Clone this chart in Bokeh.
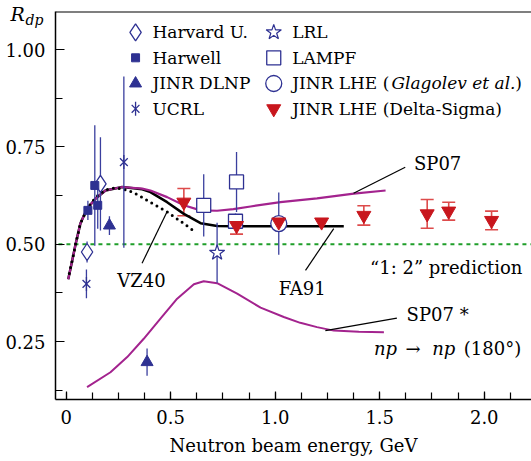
import numpy as np
from bokeh.plotting import figure
from bokeh.models import (Range1d, FixedTicker, CustomJSTickFormatter, PrintfTickFormatter,
                          Label, Span, Title, Whisker, TeeHead, ColumnDataSource)
from bokeh.embed import file_html
from bokeh.resources import INLINE

# ---------------- data ----------------
harvard_x = [0.100, 0.164]
harvard_y = [0.480, 0.655]
harvard_err = [0.027, 0.120]

harwell_x = [0.104, 0.137, 0.151]
harwell_y = [0.587, 0.651, 0.600]
harwell_err = [0.025, 0.155, 0.060]

dlnp_x = [0.207, 0.387]
dlnp_y = [0.548, 0.197]
dlnp_err = [0.024, 0.035]

ucrl_x = [0.097, 0.276]
ucrl_y = [0.398, 0.711]
ucrl_err = [0.037, 0.220]

lrl_x = [0.722]
lrl_y = [0.478]
lrl_err = [0.077]

lampf_x = [0.658, 0.815, 0.810]
lampf_y = [0.600, 0.660, 0.559]
lampf_err = [0.080, 0.077, 0.020]

glag_x = [1.017]
glag_y = [0.553]
glag_err = [0.080]

ds_x = [0.563, 0.815, 1.017, 1.222, 1.424, 1.727, 1.830, 2.035]
ds_y = [0.608, 0.548, 0.557, 0.557, 0.574, 0.578, 0.585, 0.561]
ds_err = [0.035, 0.022, 0.0, 0.0, 0.025, 0.037, 0.023, 0.024]

sp07_x = [0.010, 0.029, 0.045, 0.068, 0.100, 0.140, 0.188, 0.268, 0.364, 0.403, 0.483,
          0.563, 0.643, 0.722, 0.800, 0.882, 1.025, 1.200, 1.376, 1.528]
sp07_y = [0.410, 0.458, 0.500, 0.553, 0.591, 0.617, 0.638, 0.647, 0.643, 0.638, 0.621,
          0.600, 0.587, 0.586, 0.590, 0.597, 0.608, 0.618, 0.630, 0.638]

fa91_x = [0.010, 0.029, 0.045, 0.068, 0.100, 0.140, 0.188, 0.268, 0.364, 0.403, 0.483,
          0.563, 0.643, 0.722, 0.800, 1.000, 1.328]
fa91_y = [0.410, 0.458, 0.500, 0.553, 0.591, 0.617, 0.638, 0.647, 0.641, 0.634, 0.608,
          0.578, 0.554, 0.547, 0.546, 0.546, 0.546]

vz40_x = [0.015, 0.029, 0.045, 0.068, 0.100, 0.140, 0.188, 0.240, 0.300, 0.350, 0.395,
          0.483, 0.563, 0.619]
vz40_y = [0.425, 0.458, 0.500, 0.553, 0.591, 0.620, 0.640, 0.645, 0.638, 0.625, 0.610,
          0.583, 0.553, 0.531]

sp07s_x = [0.100, 0.212, 0.292, 0.371, 0.451, 0.531, 0.611, 0.658, 0.722, 0.818, 0.930,
           1.041, 1.120, 1.200, 1.280, 1.400, 1.520]
sp07s_y = [0.133, 0.171, 0.210, 0.257, 0.309, 0.360, 0.397, 0.405, 0.400, 0.373, 0.337,
           0.313, 0.298, 0.287, 0.278, 0.275, 0.274]

pred_x = [-0.037, 2.25]
pred_y = [0.5, 0.5]

x_ticks = [0, 0.5, 1.0, 1.5, 2.0]
y_ticks = [0.25, 0.50, 0.75, 1.00]

# ---------------- styles ----------------
BLUE = "#2e3192"
BLUE_BAR = "#3a3f9e"
RED = "#c8161d"
RED_BAR = "#dd4b4b"
MAG = "#a3238e"
GREEN = "#1f9e2a"
F = "DejaVu Serif"
FS = "18px"

p = figure(width=531, height=461, x_range=Range1d(-0.051, 2.226), y_range=Range1d(0.101, 1.098),
           output_backend="svg", toolbar_location=None,
           min_border_left=55, min_border_right=0, min_border_top=11, min_border_bottom=62)
p.xgrid.visible = False
p.ygrid.visible = False
p.outline_line_color = None
p.background_fill_color = "white"

for ax in (p.xaxis[0], p.yaxis[0]):
    ax.axis_line_color = "black"
    ax.axis_line_width = 1.5
    ax.major_tick_line_color = "black"
    ax.minor_tick_line_color = "black"
    ax.major_tick_line_width = 1.2
    ax.minor_tick_line_width = 1.2
    ax.major_tick_out = 0
    ax.minor_tick_out = 0
    ax.major_label_text_font = F
    ax.major_label_text_font_size = FS
    ax.major_label_text_color = "black"

p.xaxis.ticker = FixedTicker(ticks=x_ticks, minor_ticks=[0.125 * i for i in range(18)])
p.xaxis.formatter = CustomJSTickFormatter(code="return tick == 0 ? '0' : tick.toFixed(1);")
p.xaxis.major_tick_in = 8
p.xaxis.minor_tick_in = 7
p.xaxis.major_label_standoff = 10
p.xaxis.axis_label = "Neutron beam energy, GeV"
p.xaxis.axis_label_text_font = F
p.xaxis.axis_label_text_font_size = FS
p.xaxis.axis_label_text_font_style = "normal"
p.xaxis.axis_label_text_color = "black"
p.xaxis.axis_label_text_line_height = 1.0
p.xaxis.axis_label_standoff = 8

p.yaxis.ticker = FixedTicker(ticks=y_ticks, minor_ticks=[0.125, 0.375, 0.625, 0.875])
p.yaxis.formatter = PrintfTickFormatter(format="%.2f")
p.yaxis.major_tick_in = 9
p.yaxis.minor_tick_in = 7
p.yaxis.major_label_standoff = 10

p.add_layout(Span(location=1.098, dimension="width", line_color="black", line_width=2))

# y-axis quantity name R_dp, drawn as two titles above the frame's left corner
p.add_layout(Title(text="R", align="left", offset=-45, standoff=-27, vertical_align="bottom",
                   text_font=F, text_font_size="19px", text_font_style="italic",
                   text_color="black"), "above")
p.add_layout(Title(text="dp", align="left", offset=-30, standoff=-33, vertical_align="bottom",
                   text_font=F, text_font_size="14px", text_font_style="italic",
                   text_color="black"), "above")

# ---------------- curves ----------------
p.line(pred_x, pred_y, line_color=GREEN, line_width=2, line_dash="4 4")
p.line(fa91_x, fa91_y, line_color="black", line_width=2.5)
p.line(sp07_x, sp07_y, line_color=MAG, line_width=2.2)
p.line(vz40_x, vz40_y, line_color="black", line_width=3, line_dash="0 6", line_cap="round")
p.line(sp07s_x, sp07s_y, line_color=MAG, line_width=2)

# ---------------- error bars ----------------
def vbars(xs, ys, es):
    p.segment(x0=xs, y0=[y - e for y, e in zip(ys, es)], x1=xs, y1=[y + e for y, e in zip(ys, es)],
              line_color=BLUE_BAR, line_width=1.3)

vbars(harvard_x, harvard_y, harvard_err)
vbars(harwell_x, harwell_y, harwell_err)
vbars(dlnp_x, dlnp_y, dlnp_err)
vbars(ucrl_x, ucrl_y, ucrl_err)
vbars(lrl_x, lrl_y, lrl_err)
vbars(lampf_x, lampf_y, lampf_err)
vbars(glag_x, glag_y, glag_err)

ds_src = ColumnDataSource(dict(
    base=[x for x, e in zip(ds_x, ds_err) if e > 0],
    lower=[y - e for y, e in zip(ds_y, ds_err) if e > 0],
    upper=[y + e for y, e in zip(ds_y, ds_err) if e > 0]))
p.add_layout(Whisker(source=ds_src, base="base", lower="lower", upper="upper", dimension="height",
                     line_color=RED_BAR, line_width=1.6,
                     upper_head=TeeHead(size=13, line_color=RED_BAR, line_width=1.6),
                     lower_head=TeeHead(size=13, line_color=RED_BAR, line_width=1.6)))

# ---------------- markers (series + legend keys) ----------------
# legend layout (data units of the frame): two columns of four rows
LX = [0.332, 0.993]          # key centres
TX = [0.413, 1.081]          # label starts
LY = [1.0445, 0.979, 0.913, 0.848]

STY = {
    "harv": dict(marker="diamond", size=17, line_color=BLUE, line_width=1.3, fill_color="white"),
    "harw": dict(marker="square", size=8, line_color=BLUE, fill_color=BLUE),
    "dlnp": dict(marker="triangle", size=12, line_color=BLUE, fill_color=BLUE),
    "ucx": dict(marker="x", size=11, line_color=BLUE, line_width=1.3),
    "ucd": dict(marker="dash", angle=np.pi / 2, size=14, line_color=BLUE, line_width=1.3),
    "lrl": dict(marker="star", size=16, line_color=BLUE, line_width=1.2, fill_color="white"),
    "lampf": dict(marker="square", size=14, line_color=BLUE, line_width=1.3, fill_color="white"),
    "glag": dict(marker="circle", size=16, line_color=BLUE, line_width=1.3, fill_color="white"),
    "ds": dict(marker="inverted_triangle", size=14, line_color=RED, fill_color=RED),
}

p.scatter(glag_x, glag_y, **STY["glag"])
p.scatter(harvard_x, harvard_y, **STY["harv"])
p.scatter(harwell_x, harwell_y, **STY["harw"])
p.scatter(dlnp_x, dlnp_y, **STY["dlnp"])
p.scatter(ucrl_x, ucrl_y, **STY["ucx"])
p.scatter(ucrl_x, ucrl_y, **STY["ucd"])
p.scatter(lrl_x, lrl_y, **STY["lrl"])
p.scatter(lampf_x, lampf_y, **STY["lampf"])
p.scatter(ds_x, ds_y, **STY["ds"])

legend_keys = [("harv", 0, 0), ("harw", 0, 1), ("dlnp", 0, 2), ("ucx", 0, 3), ("ucd", 0, 3),
               ("lrl", 1, 0), ("lampf", 1, 1), ("glag", 1, 2), ("ds", 1, 3)]
for key, c, r in legend_keys:
    p.scatter([LX[c]], [LY[r]], **STY[key])

def lab(x, y, text, size=FS, style="normal", align="center"):
    p.add_layout(Label(x=x, y=y, text=text, text_font=F, text_font_size=size,
                       text_font_style=style, text_align=align, text_baseline="middle",
                       text_color="black"))

legend_labels = [("Harvard U.", 0, 0), ("Harwell", 0, 1), ("JINR DLNP", 0, 2), ("UCRL", 0, 3),
                 ("LRL", 1, 0), ("LAMPF", 1, 1), ("JINR LHE (", 1, 2), ("JINR LHE (Delta-Sigma)", 1, 3)]
for text, c, r in legend_labels:
    lab(TX[c], LY[r], text, size="17px", align="left")
lab(1.556, LY[2], "Glagolev et al.", size="17px", style="italic", align="left")
lab(2.148, LY[2], ")", size="17px", align="left")

# ---------------- annotations ----------------
lead_x0 = [1.622, 0.363, 1.145, 1.582]
lead_y0 = [0.698, 0.451, 0.433, 0.310]
lead_x1 = [1.375, 0.482, 1.280, 1.240]
lead_y1 = [0.631, 0.583, 0.540, 0.278]
p.segment(x0=lead_x0, y0=lead_y0, x1=lead_x1, y1=lead_y1, line_color="black", line_width=1.2)

lab(1.777, 0.708, "SP07")
lab(0.360, 0.407, "VZ40")
lab(1.129, 0.386, "FA91")
lab(1.818, 0.441, "\u201c1: 2\u201d prediction")
lab(1.777, 0.320, "SP07 *")
lab(1.472, 0.232, "np", style="italic", align="left")
lab(1.659, 0.232, "\u2192", align="center")
lab(1.751, 0.232, "np", style="italic", align="left")
lab(1.902, 0.232, "(180\u00b0)", align="left")

open("out.html", "w").write(file_html(p, INLINE))
